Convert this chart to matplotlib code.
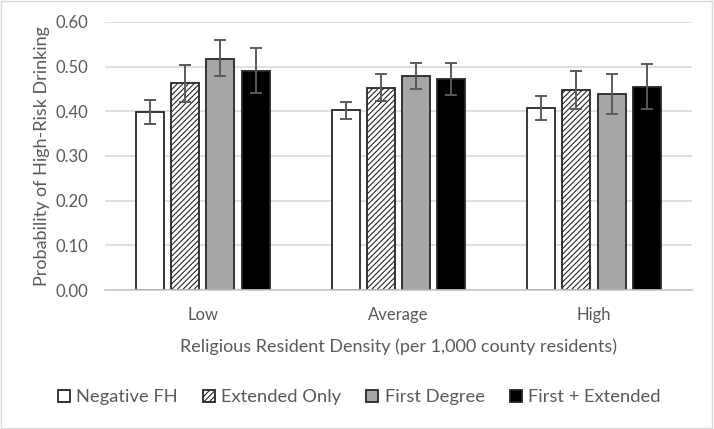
import matplotlib.pyplot as plt
import numpy as np
from matplotlib.patches import Rectangle

# data
categories = ["Low", "Average", "High"]
series = ["Negative FH", "Extended Only", "First Degree", "First + Extended"]
neg_fh = [0.399, 0.402, 0.407]
ext_only = [0.463, 0.453, 0.448]
first_deg = [0.518, 0.479, 0.439]
first_ext = [0.490, 0.473, 0.454]
err_hi = [[0.426, 0.421, 0.434], [0.504, 0.484, 0.490],
          [0.560, 0.507, 0.484], [0.542, 0.508, 0.506]]
err_lo = [[0.372, 0.383, 0.380], [0.421, 0.424, 0.406],
          [0.478, 0.449, 0.394], [0.440, 0.437, 0.405]]
yticks = [0.0, 0.1, 0.2, 0.3, 0.4, 0.5, 0.6]

plt.rcParams['font.family'] = ['Lato', 'DejaVu Sans']
plt.rcParams['hatch.color'] = '#6a6a6a'
plt.rcParams['hatch.linewidth'] = 0.8
txt = '#595959'

fig = plt.figure(figsize=(7.14, 4.29), dpi=100)
ax = fig.add_axes([0.147, 0.324, 0.822, 0.625])

styles = [dict(color='white', hatch=None),
          dict(color='white', hatch='//////'),
          dict(color='#a6a6a6', hatch=None),
          dict(color='black', hatch=None)]
values = [neg_fh, ext_only, first_deg, first_ext]

x = np.arange(len(categories))
pitch = 0.18
width = 0.143
for i, (vals, st) in enumerate(zip(values, styles)):
    pos = x + (i - 1.5) * pitch
    ax.bar(pos, vals, width, color=st['color'], hatch=st['hatch'],
           edgecolor='#262626', linewidth=1.3, label=series[i], zorder=2)
    lo = np.array(vals) - np.array(err_lo[i])
    hi = np.array(err_hi[i]) - np.array(vals)
    ax.errorbar(pos, vals, yerr=[lo, hi], fmt='none', ecolor='#5a5a5a',
                elinewidth=1.4, capsize=4, capthick=1.4, zorder=3)

ax.set_xlim(-0.5, 2.5)
ax.set_ylim(0, 0.6)
ax.set_yticks(yticks)
ax.set_yticklabels([f"{v:.2f}" for v in yticks])
ax.set_xticks(x)
ax.set_xticklabels(categories)
ax.yaxis.grid(True, color='#d9d9d9', linewidth=1.2, zorder=0)
ax.set_axisbelow(True)
for s in ['top', 'right', 'left']:
    ax.spines[s].set_visible(False)
ax.spines['bottom'].set_color('#c8c8c8')
ax.spines['bottom'].set_linewidth(1.2)
ax.tick_params(length=0, labelsize=12, colors=txt)
ax.tick_params(axis='x', pad=12)
ax.tick_params(axis='y', pad=12)

ax.set_ylabel("Probability of High-Risk Drinking", fontsize=13, color=txt, labelpad=4)
ax.set_xlabel("Religious Resident Density (per 1,000 county residents)",
              fontsize=13, color=txt, labelpad=11)

fig.legend(loc='center', bbox_to_anchor=(0.503, 0.074), ncol=4, frameon=False,
           fontsize=13.2, labelcolor=txt, handlelength=0.65, handleheight=0.65,
           handletextpad=0.35, columnspacing=1.37)

# light chart border
fig.patches.append(Rectangle((0.002, 0.003), 0.995, 0.994, transform=fig.transFigure,
                             fill=False, edgecolor='#d9d9d9', linewidth=1))

fig.savefig("out.png", dpi=100)
